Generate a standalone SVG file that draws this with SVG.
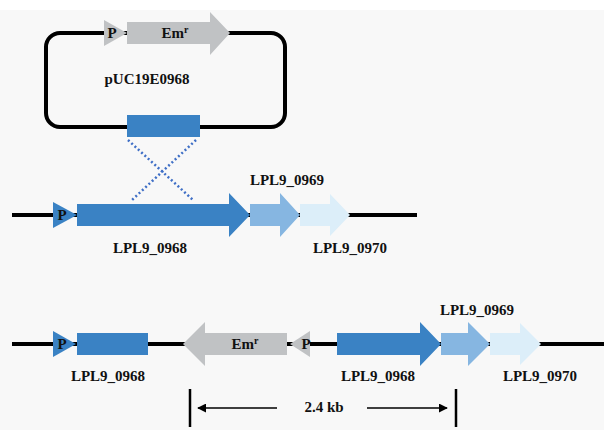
<svg xmlns="http://www.w3.org/2000/svg" width="604" height="430" viewBox="0 0 604 430">
  <defs>
    <style>
      .lbl { font-family: "Liberation Serif", "Times New Roman", serif; font-weight: bold; font-size: 15px; fill: #111; text-anchor: middle; }
      .sup { font-size: 10px; }
      .dna { stroke: #000; stroke-width: 4; fill: none; }
      .g68 { fill: #3a82c4; }
      .g69 { fill: #86b6e1; }
      .g70 { fill: #dceef9; }
      .erm { fill: #c0c2c4; }
      .xover { stroke: #3f6fc6; stroke-width: 2.5; stroke-dasharray: 2 2.5; fill: none; }
      .dim { stroke: #000; stroke-width: 1.3; fill: none; }
      .bar { stroke: #000; stroke-width: 2.5; }
    </style>
    <marker id="head" viewBox="0 0 10 10" refX="9" refY="5" markerWidth="9" markerHeight="9" markerUnits="userSpaceOnUse" orient="auto">
      <path d="M0,0 L10,5 L0,10 Z" fill="#000"/>
    </marker>
  </defs>

  <!-- canvas -->
  <rect x="0" y="0" width="604" height="430" fill="#f8f8f8"/>
  <rect x="0" y="0" width="604" height="10" fill="#ffffff"/>

  <!-- plasmid pUC19E0968 -->
  <g id="plasmid">
    <rect x="46" y="33" width="239" height="94" rx="14" class="dna"/>
    <text x="147" y="84" class="lbl">pUC19E0968</text>
  </g>
  <g id="plasmid-promoter">
    <polygon points="104,20 127,33 104,46" class="erm"/>
    <text x="112" y="38" class="lbl">P</text>
  </g>
  <g id="plasmid-emr">
    <polygon points="127,22 210,22 210,12 230,33 210,55 210,44 127,44" class="erm"/>
    <text x="175" y="38" class="lbl">Em<tspan class="sup" dy="-5">r</tspan></text>
  </g>
  <g id="plasmid-insert">
    <rect x="127" y="115" width="73" height="22" class="g68"/>
  </g>

  <!-- chromosome backbones -->
  <g id="backbones">
    <line x1="12" y1="215" x2="417" y2="215" class="dna"/>
    <line x1="12" y1="344" x2="604" y2="344" class="dna"/>
  </g>

  <!-- wild-type locus -->
  <g id="wt-promoter">
    <polygon points="53,202 77,215 53,228" class="g68"/>
    <text x="62" y="220" class="lbl">P</text>
  </g>
  <g id="wt-0968">
    <polygon points="77,204 229,204 229,193 250,215 229,237 229,226 77,226" class="g68"/>
    <text x="150" y="253" class="lbl">LPL9_0968</text>
  </g>
  <g id="wt-0969">
    <polygon points="250,204 280,204 280,193 300,215 280,237 280,226 250,226" class="g69"/>
    <text x="287" y="185" class="lbl">LPL9_0969</text>
  </g>
  <g id="wt-0970">
    <polygon points="300,204 330,204 330,194 350,215 330,236 330,226 300,226" class="g70"/>
    <text x="350" y="253" class="lbl">LPL9_0970</text>
  </g>

  <!-- integrated locus -->
  <g id="mut-promoter">
    <polygon points="53,331 76,344 53,357" class="g68"/>
    <text x="62" y="349" class="lbl">P</text>
  </g>
  <g id="mut-0968-fragment">
    <rect x="77" y="333" width="71" height="22" class="g68"/>
    <text x="108" y="381" class="lbl">LPL9_0968</text>
  </g>
  <g id="mut-emr">
    <polygon points="287,333 205,333 205,322 183,344 205,366 205,355 287,355" class="erm"/>
    <text x="245" y="349" class="lbl">Em<tspan class="sup" dy="-5">r</tspan></text>
  </g>
  <g id="mut-emr-promoter">
    <polygon points="310,331 290,344 310,357" class="erm"/>
    <text x="306" y="349" class="lbl">P</text>
  </g>
  <g id="mut-0968">
    <polygon points="337,333 420,333 420,322 441,344 420,366 420,355 337,355" class="g68"/>
    <text x="378" y="381" class="lbl">LPL9_0968</text>
  </g>
  <g id="mut-0969">
    <polygon points="441,333 468,333 468,322 490,344 468,366 468,355 441,355" class="g69"/>
    <text x="477" y="315" class="lbl">LPL9_0969</text>
  </g>
  <g id="mut-0970">
    <polygon points="490,333 520,333 520,323 541,344 520,365 520,355 490,355" class="g70"/>
    <text x="540" y="381" class="lbl">LPL9_0970</text>
  </g>

  <!-- crossover and size markers -->
  <g id="connectors">
    <line x1="128" y1="140" x2="193" y2="200" class="xover"/>
    <line x1="196" y1="140" x2="132" y2="200" class="xover"/>
    <line x1="190" y1="389" x2="190" y2="427" class="bar"/>
    <line x1="456" y1="389" x2="456" y2="427" class="bar"/>
    <line x1="277" y1="408" x2="198" y2="408" class="dim" marker-end="url(#head)"/>
    <line x1="367" y1="408" x2="447" y2="408" class="dim" marker-end="url(#head)"/>
  </g>
  <g id="size-label">
    <text x="324" y="412" class="lbl">2.4 kb</text>
  </g>
</svg>
